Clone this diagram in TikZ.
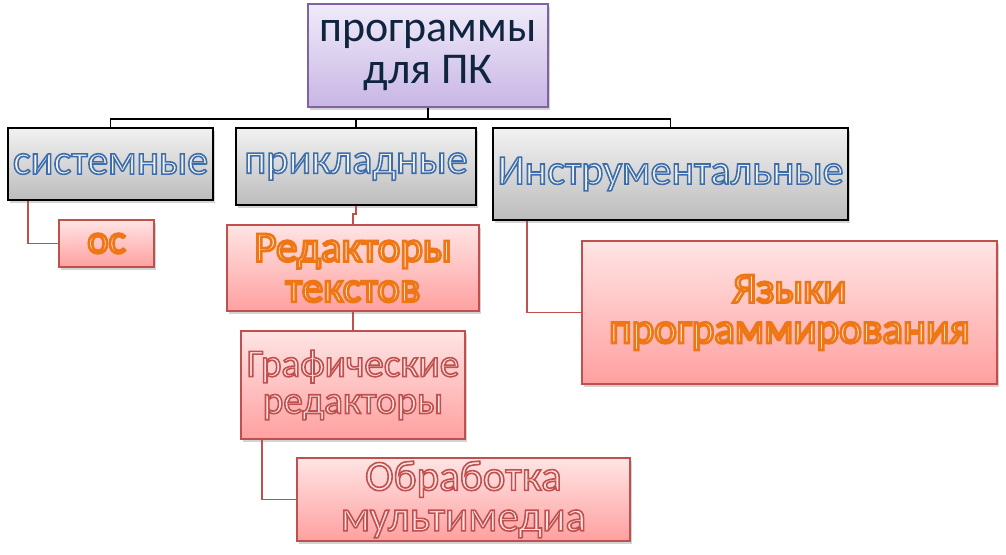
\documentclass[tikz,border=0pt]{standalone}
\usepackage{fontspec}
\setmainfont{Carlito}
\usepackage{tikz}
\usetikzlibrary{positioning,shadows,calc}
\definecolor{rootline}{RGB}{128,100,162}
\definecolor{roottop}{RGB}{240,235,250}
\definecolor{rootbot}{RGB}{200,182,228}
\definecolor{greytop}{RGB}{242,242,242}
\definecolor{greybot}{RGB}{188,188,188}
\definecolor{redline}{RGB}{192,80,77}
\definecolor{redtop}{RGB}{255,228,228}
\definecolor{redbot}{RGB}{255,160,160}
\definecolor{navytext}{RGB}{15,36,62}
\definecolor{cream}{RGB}{246,242,230}
\definecolor{orangefill}{RGB}{255,236,214}
\definecolor{pinkfill}{RGB}{250,226,226}

% outlined letters: #1 stroke rgb, #2 stroke width (bp), #3 text
\newcommand\edgetext[3]{\special{pdf:literal direct #2 w #1 RG 2 Tr}#3\special{pdf:literal direct 0 Tr}}
\newcommand\bluetxt[1]{\edgetext{0.235 0.431 0.686}{0.9}{#1}}
\newcommand\orangetxt[1]{\edgetext{0.933 0.463 0.078}{1.5}{#1}}
\newcommand\pinktxt[1]{\edgetext{0.753 0.314 0.302}{0.9}{#1}}

\tikzset{
  boxshadow/.style={drop shadow={shadow xshift=1.2pt, shadow yshift=-1.5pt, opacity=0.35}},
  rootbox/.style={rectangle, draw=rootline, line width=1pt, top color=roottop,
                  bottom color=rootbot, text=navytext, align=center, inner sep=2pt,
                  font=\fontsize{25}{24}\selectfont, boxshadow},
  greybox/.style={rectangle, draw=black, line width=1.2pt, top color=greytop,
                  bottom color=greybot, text=cream, align=center, inner sep=1pt,
                  font=\fontsize{24}{24}\selectfont, boxshadow},
  redbox/.style={rectangle, draw=redline, line width=1pt, top color=redtop,
                 bottom color=redbot, text=pinkfill, align=center, inner sep=1pt,
                 font=\fontsize{24.5}{23}\selectfont, boxshadow},
  orangebox/.style={redbox, text=orangefill},
  link/.style={line width=1pt, black},
  redlink/.style={line width=1pt, redline},
}

\begin{document}
\begin{tikzpicture}
\useasboundingbox (0,0) rectangle (20.12,-11.08);
% top level
\node[rootbox, minimum width=4.8cm, minimum height=2.06cm] (prog) at (8.56,-1.11) {программы\\для ПК};
\node[greybox, minimum width=4.1cm, minimum height=1.44cm] (sys) at (2.21,-3.28) {\bluetxt{системные}};
\node[greybox, minimum width=4.8cm, minimum height=1.54cm] (app) at (7.12,-3.33) {\bluetxt{прикладные}};
\node[greybox, minimum width=7.1cm, minimum height=1.84cm] (tool) at (13.41,-3.48) {\bluetxt{Инструментальные}};
% leaves
\node[orangebox, minimum width=1.9cm, minimum height=0.94cm, font=\fontsize{23}{23}\selectfont] (os) at (2.13,-4.87) {\orangetxt{ос}};
\node[orangebox, minimum width=5.04cm, minimum height=1.72cm] (edit) at (7.06,-5.36) {\orangetxt{Редакторы}\\\orangetxt{текстов}};
\node[redbox, minimum width=4.48cm, minimum height=2.16cm, font=\fontsize{22.3}{21}\selectfont] (graph) at (7.06,-7.7) {\pinktxt{Графические}\\\pinktxt{редакторы}};
\node[redbox, minimum width=6.66cm, minimum height=1.66cm, font=\fontsize{24.5}{23}\selectfont] (media) at (9.27,-9.99) {\pinktxt{Обработка}\\\pinktxt{мультимедиа}};
\node[orangebox, minimum width=8.3cm, minimum height=2.86cm, font=\fontsize{24.5}{23}\selectfont] (lang) at (15.79,-6.25) {\orangetxt{Языки}\\\orangetxt{программирования}};

\draw[link] (prog.south) -- ++(0,-0.22) coordinate (bus);
\foreach \n in {sys, app, tool}
  \draw[link] (bus) -| (\n.north);
\draw[redlink] ([xshift=0.42cm]sys.south west) |- (os.west);
\draw[redlink] (app.south) -- ++(0,-0.16) -| (edit.north);
\draw[redlink] (edit) -- (graph);
\draw[redlink] ([xshift=0.44cm]graph.south west) |- (media.west);
\draw[redlink] ([xshift=0.7cm]tool.south west) |- (lang.west);
\end{tikzpicture}
\end{document}
